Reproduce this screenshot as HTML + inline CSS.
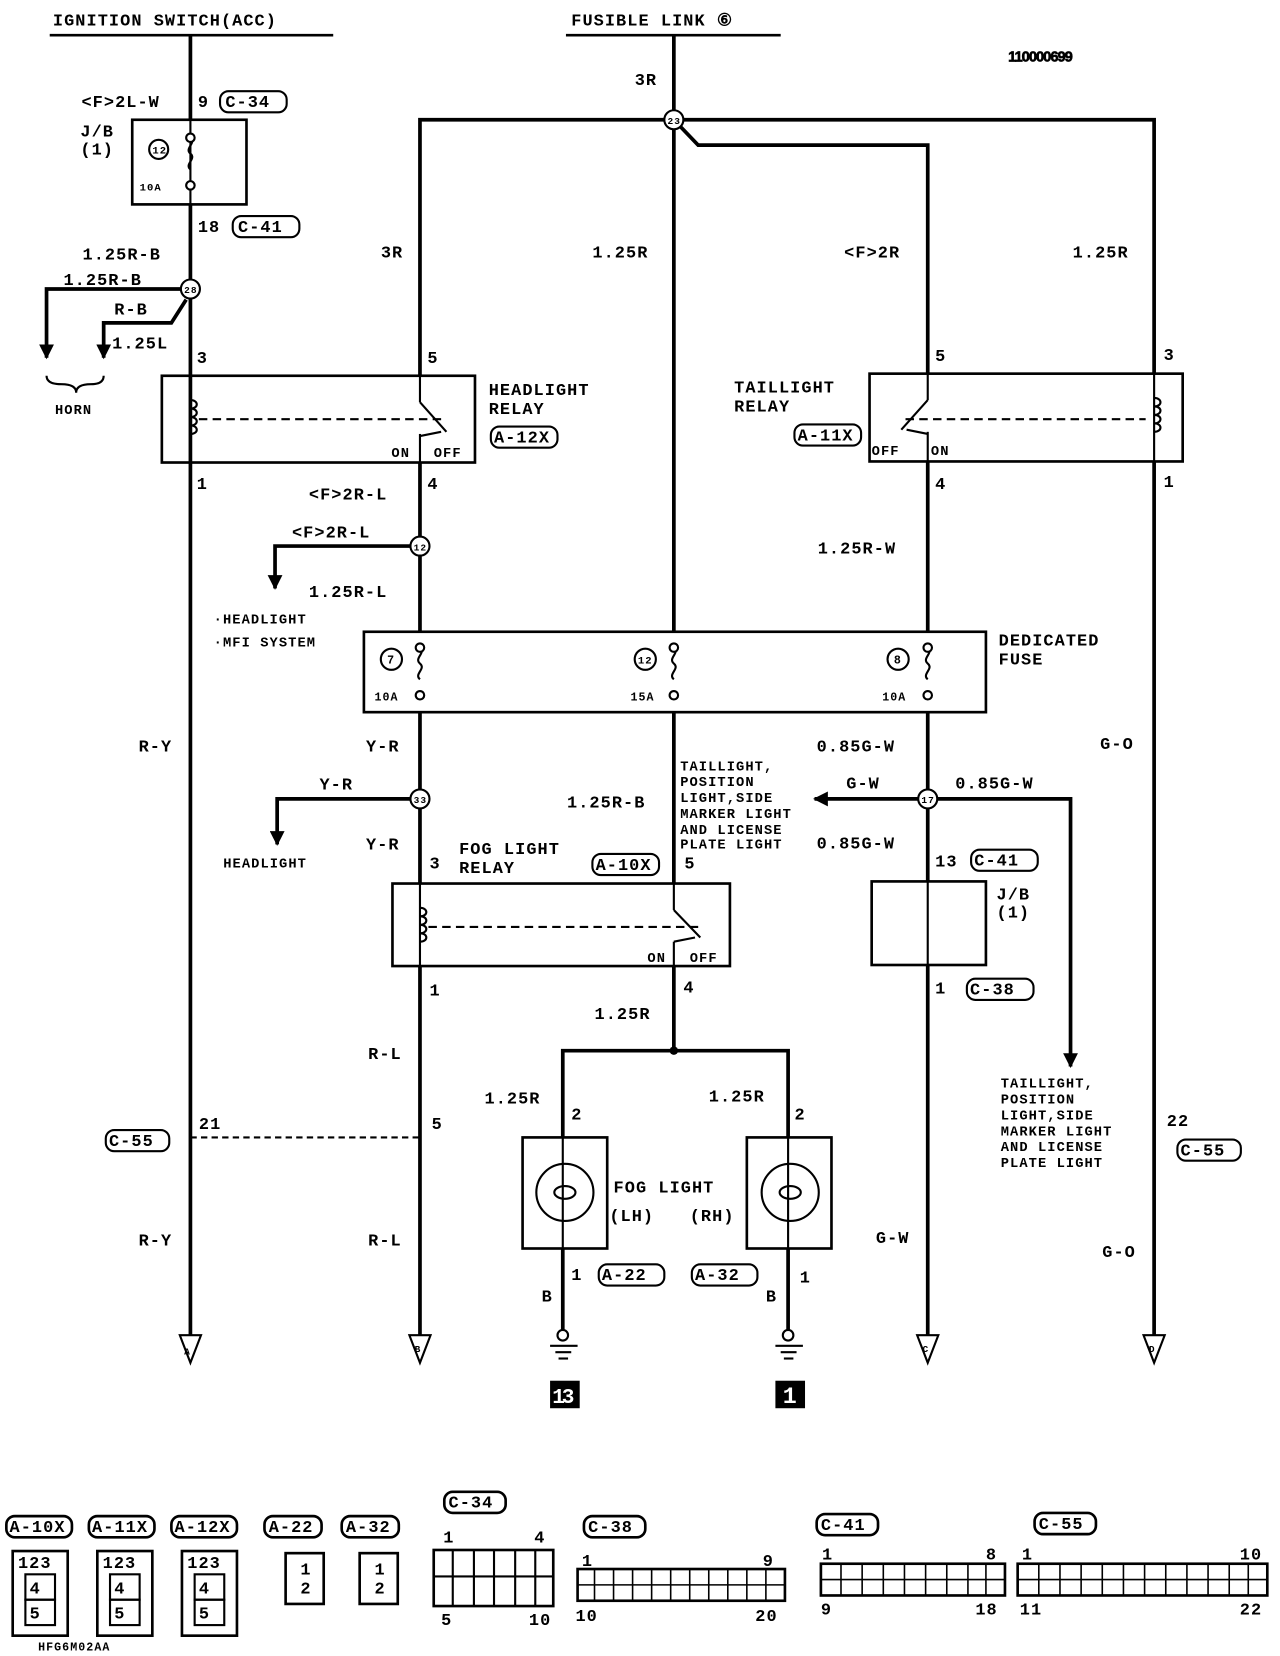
<!DOCTYPE html>
<html><head><meta charset="utf-8"><style>
html,body{margin:0;padding:0;background:#fff}
svg{display:block}
text{font-family:"Liberation Mono",monospace;font-weight:bold;font-size:16px;fill:#000;letter-spacing:1px}
.s{font-size:14px}
.t{font-size:13px}
</style></head><body>
<svg width="1280" height="1656" viewBox="0 0 1210 1565" xmlns="http://www.w3.org/2000/svg">
<defs>
<marker id="ar" viewBox="0 0 10 10" refX="9" refY="5" markerWidth="4" markerHeight="4" orient="auto"><path d="M0,0 L10,5 L0,10 z" fill="#000"/></marker>
</defs>
<g stroke="#000" fill="none" stroke-width="3.5">
<line x1="47" y1="33" x2="315" y2="33" stroke-width="2.5"/>
<line x1="535" y1="33" x2="738" y2="33" stroke-width="2.5"/>
<line x1="180" y1="33" x2="180" y2="113"/>
<line x1="180" y1="193" x2="180" y2="1262"/>
<line x1="637" y1="33" x2="637" y2="597"/>
<polyline points="397,355 397,113 1091,113 1091,353"/>
<polyline points="637,113 660,137 877,137 877,353"/>
<line x1="397" y1="437" x2="397" y2="597"/>
<line x1="877" y1="436" x2="877" y2="597"/>
<line x1="1091" y1="436" x2="1091" y2="1262"/>
<polyline points="397,516 260,516 260,556" marker-end="url(#ar)"/>
<polyline points="180,273 44,273 44,338" marker-end="url(#ar)"/>
<polyline points="176,283 162,305 98,305 98,338" marker-end="url(#ar)"/>
<line x1="397" y1="673" x2="397" y2="835"/>
<line x1="637" y1="673" x2="637" y2="835"/>
<line x1="877" y1="673" x2="877" y2="833"/>
<polyline points="397,755 262,755 262,798" marker-end="url(#ar)"/>
<polyline points="877,755 770,755" marker-end="url(#ar)"/>
<polyline points="877,755 1012,755 1012,1008" marker-end="url(#ar)"/>
<line x1="397" y1="913" x2="397" y2="1262"/>
<polyline points="637,913 637,993"/>
<polyline points="532,1075 532,993 745,993 745,1075"/>
<line x1="532" y1="1180" x2="532" y2="1262"/>
<line x1="745" y1="1180" x2="745" y2="1262"/>
<line x1="877" y1="912" x2="877" y2="1262"/>
</g>
<g stroke="#000" fill="none" stroke-width="2">
<line x1="180" y1="113" x2="180" y2="193"/>
<line x1="180" y1="355" x2="180" y2="437"/>
<line x1="397" y1="355" x2="397" y2="380"/>
<line x1="397" y1="410" x2="397" y2="437"/>
<line x1="877" y1="353" x2="877" y2="378"/>
<line x1="877" y1="408" x2="877" y2="436"/>
<line x1="1091" y1="353" x2="1091" y2="436"/>
<line x1="397" y1="835" x2="397" y2="913"/>
<line x1="637" y1="835" x2="637" y2="860"/>
<line x1="637" y1="890" x2="637" y2="913"/>
<line x1="877" y1="833" x2="877" y2="912"/>
<line x1="532" y1="1075" x2="532" y2="1180"/>
<line x1="745" y1="1075" x2="745" y2="1180"/>
<rect x="125" y="113" width="108" height="80" stroke-width="2.5"/>
<rect x="153" y="355" width="296" height="82" stroke-width="2.5"/>
<rect x="822" y="353" width="296" height="83" stroke-width="2.5"/>
<rect x="344" y="597" width="588" height="76" stroke-width="2.5"/>
<rect x="371" y="835" width="319" height="78" stroke-width="2.5"/>
<rect x="824" y="833" width="108" height="79" stroke-width="2.5"/>
<rect x="494" y="1075" width="80" height="105" stroke-width="2.5"/>
<rect x="706" y="1075" width="80" height="105" stroke-width="2.5"/>
<circle cx="534" cy="1127" r="27"/><ellipse cx="534" cy="1127" rx="10" ry="6"/>
<circle cx="747" cy="1127" r="27"/><ellipse cx="747" cy="1127" rx="10" ry="6"/>
<path d="M180,378 c8,0 8,8 0,8 c8,0 8,8 0,8 c8,0 8,8 0,8 c8,0 8,8 0,8"/>
<path d="M1091,376 c8,0 8,8 0,8 c8,0 8,8 0,8 c8,0 8,8 0,8 c8,0 8,8 0,8"/>
<path d="M397,858 c8,0 8,8 0,8 c8,0 8,8 0,8 c8,0 8,8 0,8 c8,0 8,8 0,8"/>
<line x1="188" y1="396" x2="420" y2="396" stroke-dasharray="8,5"/>
<line x1="856" y1="396" x2="1083" y2="396" stroke-dasharray="8,5"/>
<line x1="405" y1="876" x2="660" y2="876" stroke-dasharray="8,5"/>
<line x1="180" y1="1075" x2="397" y2="1075" stroke-dasharray="6,4"/>
<line x1="397" y1="380" x2="422" y2="408"/><path d="M397,412 l20,-4"/>
<line x1="877" y1="378" x2="852" y2="406"/><path d="M877,410 l-20,-4"/>
<line x1="637" y1="860" x2="662" y2="886"/><path d="M637,890 l20,-4"/>
<path d="M180,130 c6,5 -6,10 0,15 c6,5 -6,10 0,15"/>
<path d="M397,612 c6,5 -6,10 0,15 c6,5 -6,10 0,15"/>
<path d="M637,612 c6,5 -6,10 0,15 c6,5 -6,10 0,15"/>
<path d="M877,612 c6,5 -6,10 0,15 c6,5 -6,10 0,15"/>
<path d="M44,355 q0,8 14,8 q14,0 14,8 q0,-8 14,-8 q12,0 12,-8"/>
<line x1="520" y1="1272" x2="546" y2="1272"/><line x1="525" y1="1278" x2="540" y2="1278"/><line x1="528" y1="1284" x2="537" y2="1284"/>
<line x1="733" y1="1272" x2="759" y2="1272"/><line x1="738" y1="1278" x2="753" y2="1278"/><line x1="741" y1="1284" x2="750" y2="1284"/>
<path d="M170,1262 L190,1262 L180,1288 z"/>
<path d="M387,1262 L407,1262 L397,1288 z"/>
<path d="M867,1262 L887,1262 L877,1288 z"/>
<path d="M1081,1262 L1101,1262 L1091,1288 z"/>
</g>
<g fill="#fff" stroke="#000" stroke-width="2">
<circle cx="637" cy="113" r="9"/><circle cx="180" cy="273" r="9"/><circle cx="397" cy="516" r="9"/>
<circle cx="397" cy="755" r="9"/><circle cx="877" cy="755" r="9"/>
<circle cx="150" cy="141" r="9"/><circle cx="370" cy="623" r="10"/><circle cx="610" cy="623" r="10"/><circle cx="849" cy="623" r="10"/>
<circle cx="180" cy="130" r="4"/><circle cx="180" cy="175" r="4"/>
<circle cx="397" cy="612" r="4"/><circle cx="397" cy="657" r="4"/>
<circle cx="637" cy="612" r="4"/><circle cx="637" cy="657" r="4"/>
<circle cx="877" cy="612" r="4"/><circle cx="877" cy="657" r="4"/>
<circle cx="532" cy="1262" r="5"/><circle cx="745" cy="1262" r="5"/>
</g>
<circle cx="637" cy="993" r="4"/>
<rect x="520" y="1305" width="28" height="26"/><rect x="733" y="1305" width="28" height="26"/>
<text x="522" y="1326" style="fill:#fff;font-size:20px;letter-spacing:-3px">13</text>
<text x="740" y="1326" style="fill:#fff;font-size:22px">1</text>
<g>
<text x="631" y="117" style="font-size:9px">23</text><text x="174" y="277" style="font-size:9px">28</text>
<text x="391" y="520" style="font-size:9px">12</text><text x="391" y="759" style="font-size:9px">33</text><text x="871" y="759" style="font-size:9px">17</text>
<text x="144" y="145" style="font-size:10px">12</text><text x="366" y="627" style="font-size:11px">7</text><text x="603" y="627" style="font-size:10px">12</text><text x="845" y="627" style="font-size:11px">8</text>
</g>
<text x="50" y="24">IGNITION SWITCH(ACC)</text>
<text x="540" y="24">FUSIBLE LINK ⑥</text>
<text x="953" y="58" style="font-family:'Liberation Sans',sans-serif;font-size:14px;letter-spacing:-1px;stroke:#000;stroke-width:0.6">110000699</text>
<text x="77" y="101">&lt;F&gt;2L-W</text>
<text x="187" y="101">9</text>
<rect x="208" y="86" width="63" height="20" rx="8" fill="none" stroke="#000" stroke-width="2"/><text x="213" y="101">C-34</text>
<text x="76" y="129">J/B</text><text x="76" y="146">(1)</text>
<text x="132" y="180" style="font-size:10px">10A</text>
<text x="187" y="219">18</text>
<rect x="220" y="204" width="63" height="20" rx="8" fill="none" stroke="#000" stroke-width="2"/><text x="225" y="219">C-41</text>
<text x="78" y="245">1.25R-B</text>
<text x="60" y="269">1.25R-B</text>
<text x="108" y="297">R-B</text>
<text x="106" y="329">1.25L</text>
<text x="52" y="391" class="t">HORN</text>
<text x="186" y="343">3</text><text x="186" y="462">1</text>
<text x="360" y="243">3R</text><text x="560" y="243">1.25R</text><text x="798" y="243">&lt;F&gt;2R</text><text x="1014" y="243">1.25R</text>
<text x="600" y="80">3R</text>
<text x="404" y="343">5</text><text x="884" y="341">5</text><text x="1100" y="340">3</text>
<text x="462" y="373">HEADLIGHT</text><text x="462" y="391">RELAY</text>
<rect x="464" y="403" width="63" height="20" rx="8" fill="none" stroke="#000" stroke-width="2"/><text x="467" y="418">A-12X</text>
<text x="694" y="371">TAILLIGHT</text><text x="694" y="389">RELAY</text>
<rect x="751" y="401" width="63" height="20" rx="8" fill="none" stroke="#000" stroke-width="2"/><text x="754" y="416">A-11X</text>
<text x="370" y="432" class="t">ON</text><text x="410" y="432" class="t">OFF</text>
<text x="824" y="430" class="t">OFF</text><text x="880" y="430" class="t">ON</text>
<text x="404" y="462">4</text><text x="884" y="462">4</text><text x="1100" y="460">1</text>
<text x="292" y="472">&lt;F&gt;2R-L</text>
<text x="276" y="508">&lt;F&gt;2R-L</text>
<text x="292" y="564">1.25R-L</text>
<text x="773" y="523">1.25R-W</text>
<text x="202" y="589" class="t">·HEADLIGHT</text>
<text x="202" y="611" class="t">·MFI SYSTEM</text>
<text x="944" y="610">DEDICATED</text><text x="944" y="628">FUSE</text>
<text x="354" y="662" style="font-size:11px">10A</text><text x="596" y="662" style="font-size:11px">15A</text><text x="834" y="662" style="font-size:11px">10A</text>
<text x="131" y="710">R-Y</text><text x="346" y="710">Y-R</text><text x="772" y="710">0.85G-W</text><text x="1040" y="708">G-O</text>
<text x="302" y="746">Y-R</text>
<text x="536" y="763">1.25R-B</text>
<text x="643" y="728" class="t">TAILLIGHT,</text><text x="643" y="743" class="t">POSITION</text><text x="643" y="758" class="t">LIGHT,SIDE</text>
<text x="643" y="773" class="t">MARKER LIGHT</text><text x="643" y="788" class="t">AND LICENSE</text><text x="643" y="802" class="t">PLATE LIGHT</text>
<text x="772" y="802">0.85G-W</text>
<text x="800" y="745">G-W</text><text x="903" y="745">0.85G-W</text>
<text x="211" y="820" class="t">HEADLIGHT</text>
<text x="346" y="803">Y-R</text>
<text x="434" y="807">FOG LIGHT</text><text x="434" y="825">RELAY</text>
<rect x="560" y="807" width="63" height="20" rx="8" fill="none" stroke="#000" stroke-width="2"/><text x="563" y="822">A-10X</text>
<text x="406" y="821">3</text><text x="647" y="821">5</text>
<text x="884" y="819">13</text>
<rect x="918" y="803" width="63" height="20" rx="8" fill="none" stroke="#000" stroke-width="2"/><text x="921" y="818">C-41</text>
<text x="942" y="850">J/B</text><text x="942" y="867">(1)</text>
<text x="612" y="909" class="t">ON</text><text x="652" y="909" class="t">OFF</text>
<text x="406" y="941">1</text><text x="646" y="938">4</text><text x="884" y="939">1</text>
<rect x="914" y="925" width="63" height="20" rx="8" fill="none" stroke="#000" stroke-width="2"/><text x="917" y="940">C-38</text>
<text x="562" y="963">1.25R</text>
<text x="348" y="1001">R-L</text>
<text x="946" y="1028" class="t">TAILLIGHT,</text><text x="946" y="1043" class="t">POSITION</text><text x="946" y="1058" class="t">LIGHT,SIDE</text>
<text x="946" y="1073" class="t">MARKER LIGHT</text><text x="946" y="1088" class="t">AND LICENSE</text><text x="946" y="1103" class="t">PLATE LIGHT</text>
<text x="458" y="1043">1.25R</text><text x="670" y="1041">1.25R</text>
<text x="540" y="1058">2</text><text x="751" y="1058">2</text>
<text x="188" y="1067">21</text><text x="408" y="1067">5</text><text x="1103" y="1064">22</text>
<rect x="100" y="1068" width="60" height="20" rx="8" fill="none" stroke="#000" stroke-width="2"/><text x="103" y="1083">C-55</text>
<rect x="1113" y="1077" width="60" height="20" rx="8" fill="none" stroke="#000" stroke-width="2"/><text x="1116" y="1092">C-55</text>
<text x="580" y="1127">FOG LIGHT</text><text x="576" y="1154">(LH)</text><text x="652" y="1154">(RH)</text>
<text x="131" y="1177">R-Y</text><text x="348" y="1177">R-L</text><text x="828" y="1175">G-W</text><text x="1042" y="1188">G-O</text>
<text x="540" y="1210">1</text><text x="756" y="1212">1</text>
<rect x="566" y="1195" width="62" height="20" rx="8" fill="none" stroke="#000" stroke-width="2"/><text x="569" y="1210">A-22</text>
<rect x="654" y="1195" width="62" height="20" rx="8" fill="none" stroke="#000" stroke-width="2"/><text x="657" y="1210">A-32</text>
<text x="512" y="1230">B</text><text x="724" y="1230">B</text>
<text x="174" y="1280" style="font-size:9px">A</text><text x="392" y="1278" style="font-size:9px">B</text><text x="872" y="1278" style="font-size:9px">C</text><text x="1086" y="1278" style="font-size:9px">D</text>
<g fill="none" stroke="#000" stroke-width="2.5">
<rect x="6" y="1433" width="62" height="20" rx="8"/><rect x="84" y="1433" width="62" height="20" rx="8"/><rect x="162" y="1433" width="62" height="20" rx="8"/>
<rect x="250" y="1433" width="54" height="20" rx="8"/><rect x="323" y="1433" width="54" height="20" rx="8"/>
<rect x="420" y="1410" width="58" height="20" rx="8"/><rect x="552" y="1433" width="58" height="20" rx="8"/>
<rect x="772" y="1431" width="58" height="20" rx="8"/><rect x="978" y="1430" width="58" height="20" rx="8"/>
<rect x="12" y="1466" width="52" height="80"/><rect x="92" y="1466" width="52" height="80"/><rect x="172" y="1466" width="52" height="80"/>
<rect x="270" y="1468" width="36" height="48"/><rect x="340" y="1468" width="36" height="48"/>
<rect x="410" y="1465" width="113" height="53"/>
<rect x="546" y="1483" width="196" height="30"/>
<rect x="776" y="1478" width="174" height="30"/>
<rect x="962" y="1478" width="236" height="30"/>
<rect x="24" y="1488" width="28" height="24" stroke-width="2"/><rect x="24" y="1512" width="28" height="24" stroke-width="2"/>
<rect x="104" y="1488" width="28" height="24" stroke-width="2"/><rect x="104" y="1512" width="28" height="24" stroke-width="2"/>
<rect x="184" y="1488" width="28" height="24" stroke-width="2"/><rect x="184" y="1512" width="28" height="24" stroke-width="2"/>
<line x1="546" y1="1498" x2="742" y2="1498" stroke-width="1.5"/><line x1="776" y1="1493" x2="950" y2="1493" stroke-width="1.5"/><line x1="962" y1="1493" x2="1198" y2="1493" stroke-width="1.5"/>
<line x1="410" y1="1490" x2="523" y2="1490" stroke-width="2"/>
<path d="M428,1465v53M448,1465v53M467,1465v53M487,1465v53M506,1465v53" stroke-width="2"/>
<path d="M562,1483v30M580,1483v30M598,1483v30M616,1483v30M634,1483v30M652,1483v30M670,1483v30M688,1483v30M706,1483v30M724,1483v30" stroke-width="1.5"/>
<path d="M795,1478v30M815,1478v30M835,1478v30M855,1478v30M875,1478v30M895,1478v30M915,1478v30M932,1478v30" stroke-width="1.5"/>
<path d="M982,1478v30M1002,1478v30M1022,1478v30M1042,1478v30M1062,1478v30M1082,1478v30M1102,1478v30M1122,1478v30M1142,1478v30M1162,1478v30M1180,1478v30" stroke-width="1.5"/>
</g>
<g style="font-size:14px">
<text x="9" y="1448">A-10X</text><text x="87" y="1448">A-11X</text><text x="165" y="1448">A-12X</text>
<text x="254" y="1448">A-22</text><text x="327" y="1448">A-32</text><text x="424" y="1425">C-34</text>
<text x="556" y="1448">C-38</text><text x="776" y="1446">C-41</text><text x="982" y="1445">C-55</text>
</g>
<g style="font-size:16px">
<text x="419" y="1458">1</text><text x="505" y="1458">4</text><text x="417" y="1536">5</text><text x="500" y="1536">10</text>
<text x="550" y="1480">1</text><text x="721" y="1480">9</text><text x="544" y="1532">10</text><text x="714" y="1532">20</text>
<text x="777" y="1474">1</text><text x="932" y="1474">8</text><text x="776" y="1526">9</text><text x="922" y="1526">18</text>
<text x="966" y="1474">1</text><text x="1172" y="1474">10</text><text x="964" y="1526">11</text><text x="1172" y="1526">22</text>
</g>
<g style="font-size:10px">
<text x="28" y="1506">4</text><text x="28" y="1530">5</text><text x="108" y="1506">4</text><text x="108" y="1530">5</text><text x="188" y="1506">4</text><text x="188" y="1530">5</text>
<text x="17" y="1482">123</text><text x="97" y="1482">123</text><text x="177" y="1482">123</text>
<text x="284" y="1488">1</text><text x="284" y="1506">2</text><text x="354" y="1488">1</text><text x="354" y="1506">2</text>
</g>
<text x="36" y="1560" style="font-size:11px">HFG6M02AA</text>
</svg>
</body></html>
